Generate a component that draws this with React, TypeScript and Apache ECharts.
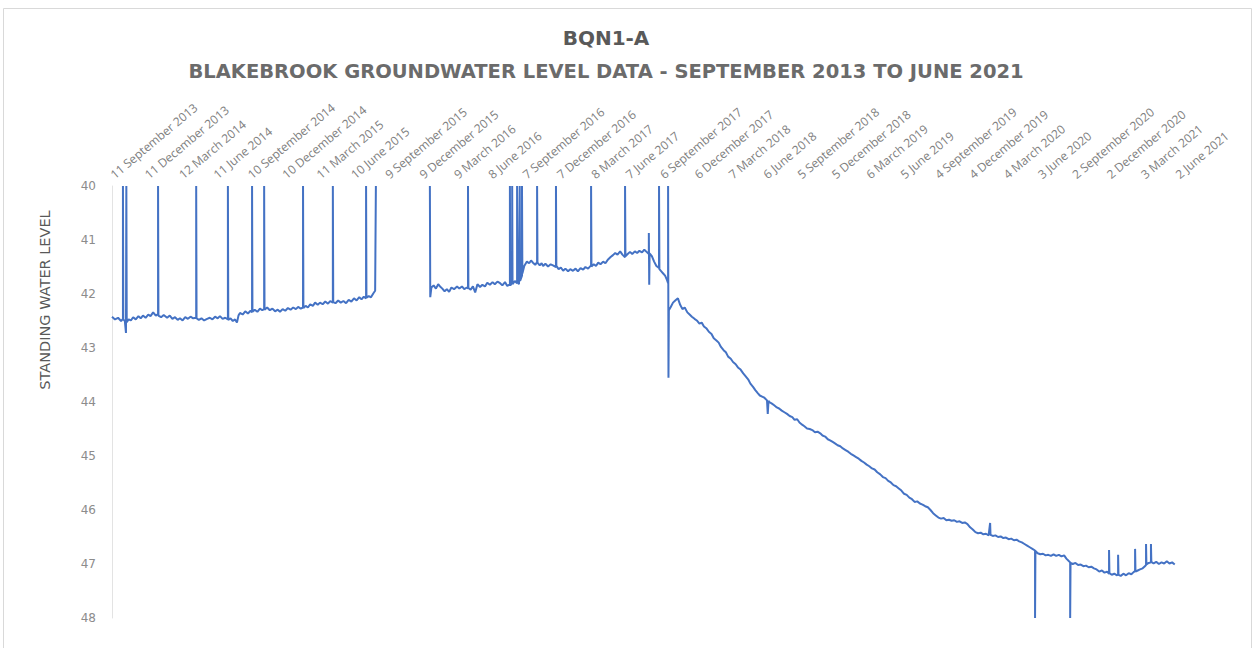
import React, { useEffect, useRef } from "react";
import * as echarts from "echarts";

// Tick labels: every 91 days starting 11 September 2013 (day 0)
const tickLabels: string[] = [
  "11 September 2013", "11 December 2013", "12 March 2014", "11 June 2014",
  "10 September 2014", "10 December 2014", "11 March 2015", "10 June 2015",
  "9 September 2015", "9 December 2015", "9 March 2016", "8 June 2016",
  "7 September 2016", "7 December 2016", "8 March 2017", "7 June 2017",
  "6 September 2017", "6 December 2017", "7 March 2018", "6 June 2018",
  "5 September 2018", "5 December 2018", "6 March 2019", "5 June 2019",
  "4 September 2019", "4 December 2019", "4 March 2020", "3 June 2020",
  "2 September 2020", "2 December 2020", "3 March 2021", "2 June 2021",
];
const tickStepDays = 91;

const titleText = "BQN1-A";
const subtitleText = "BLAKEBROOK GROUNDWATER LEVEL DATA - SEPTEMBER 2013 TO JUNE 2021";
const yAxisTitle = "STANDING WATER LEVEL";

// [days since 11 Sep 2013, standing water level]
const segmentA: number[][] = [
  [0,42.42],[8,42.47],[16,42.44],[24,42.50],[29,42.46],[29,40],[30,42.47],[34,42.50],[37,42.72],[38,40],[39,42.52],
  [44,42.47],[50,42.49],[56,42.43],[63,42.47],[70,42.41],[76,42.45],[82,42.40],[89,42.44],[96,42.38],[102,42.41],
  [109,42.34],[116,42.40],[122,42.37],[122,40],[123,42.40],[130,42.43],[137,42.39],[146,42.44],[153,42.40],[160,42.46],
  [167,42.43],[174,42.48],[180,42.45],[187,42.49],[194,42.43],[201,42.46],[208,42.42],[215,42.45],[223,42.44],[223,40],
  [224,42.45],[230,42.48],[237,42.45],[244,42.49],[252,42.46],[259,42.44],[266,42.47],[273,42.42],[280,42.45],[286,42.41],
  [293,42.46],[300,42.44],[307,42.47],[307,40],[308,42.48],[314,42.45],[320,42.50],[326,42.47],[331,42.53],[335,42.40],
  [339,42.35],[346,42.38],[353,42.32],[360,42.36],[367,42.31],[371,42.34],[371,40],[372,42.33],[378,42.29],[385,42.33],
  [392,42.27],[398,42.30],[403,42.28],[403,40],[404,42.29],[411,42.25],[418,42.30],[425,42.27],[432,42.32],[439,42.29],
  [445,42.33],[452,42.28],[459,42.31],[466,42.26],[473,42.29],[480,42.25],[487,42.28],[493,42.24],[500,42.27],[506,42.25],
  [506,40],[507,42.26],[513,42.22],[519,42.25],[525,42.19],[532,42.22],[538,42.16],[545,42.20],[551,42.16],[558,42.19],
  [565,42.14],[572,42.18],[578,42.13],[585,42.16],[585,40],[586,42.15],[592,42.17],[599,42.12],[606,42.16],[613,42.13],
  [620,42.17],[627,42.11],[634,42.14],[641,42.08],[648,42.12],[655,42.06],[661,42.10],[667,42.05],[673,42.08],[673,40],
  [674,42.07],[680,42.04],[686,42.06],[692,41.99],[697,41.94],[699,40],
];

const segmentB: number[][] = [
  [842,40],[843,42.06],[846,41.88],[852,41.84],[858,41.90],[864,41.82],[869,41.86],[875,41.90],[881,41.95],[887,41.91],
  [893,41.96],[899,41.88],[906,41.91],[914,41.86],[920,41.90],[927,41.86],[933,41.91],[940,41.88],[943,41.90],[943,40],
  [944,41.89],[950,41.92],[956,41.86],[962,41.97],[968,41.82],[975,41.87],[981,41.83],[988,41.86],[994,41.79],[1001,41.83],
  [1008,41.78],[1014,41.82],[1021,41.77],[1028,41.80],[1034,41.84],[1041,41.78],[1047,41.85],[1054,41.82],[1054,40],[1055,41.84],
  [1060,41.80],[1060,40],[1061,41.82],[1067,41.76],[1073,41.80],[1073,40],[1074,41.78],[1078,41.82],[1080,40],[1081,41.76],
  [1086,41.66],[1086,40],[1087,41.62],[1092,41.48],[1099,41.40],[1105,41.43],[1110,41.38],[1115,41.42],[1121,41.46],[1126,41.41],
  [1126,40],[1127,41.42],[1133,41.47],[1138,41.43],[1142,41.48],[1148,41.44],[1155,41.49],[1162,41.45],[1168,41.47],[1176,41.50],
  [1176,40],[1177,41.48],[1183,41.54],[1189,41.51],[1195,41.57],[1201,41.53],[1208,41.58],[1214,41.54],[1221,41.57],[1228,41.53],
  [1234,41.58],[1241,41.52],[1248,41.55],[1254,41.50],[1261,41.53],[1269,41.47],[1269,40],[1270,41.49],[1276,41.45],[1282,41.48],
  [1288,41.42],[1294,41.45],[1301,41.40],[1307,41.43],[1314,41.36],[1320,41.32],[1327,41.28],[1333,41.24],[1339,41.27],[1346,41.21],
  [1352,41.27],[1359,41.32],[1359,40],[1360,41.30],[1366,41.26],[1372,41.22],[1378,41.26],[1385,41.21],[1391,41.24],[1397,41.20],
  [1404,41.23],[1410,41.18],[1416,41.22],[1422,41.26],[1422,40.87],[1423,41.83],[1424,41.25],[1430,41.30],[1436,41.40],[1442,41.48],
  [1449,41.52],[1449,40],[1450,41.54],[1455,41.58],[1460,41.62],[1465,41.66],[1470,41.74],[1473,41.80],[1473,40],[1474,43.55],
  [1475,42.30],[1480,42.24],[1486,42.16],[1492,42.12],[1499,42.08],[1505,42.20],[1511,42.28],[1517,42.25],[1524,42.34],[1530,42.38],
  [1536,42.42],[1543,42.46],[1549,42.49],[1556,42.55],[1562,42.53],[1568,42.60],[1575,42.64],[1581,42.70],[1588,42.74],[1594,42.82],
  [1601,42.86],[1607,42.90],[1613,42.98],[1620,43.04],[1626,43.08],[1632,43.16],[1639,43.20],[1645,43.26],[1652,43.30],[1658,43.36],
  [1665,43.40],[1672,43.47],[1678,43.52],[1685,43.58],[1691,43.66],[1698,43.72],[1704,43.78],[1711,43.84],[1716,43.88],[1722,43.90],
  [1728,43.92],[1735,43.97],[1737,44.22],[1739,43.98],[1741,44.00],[1748,44.03],[1754,44.06],[1761,44.10],[1767,44.12],[1774,44.16],
  [1781,44.19],[1788,44.22],[1795,44.26],[1802,44.28],[1808,44.33],[1815,44.32],[1821,44.38],[1828,44.42],[1834,44.45],[1841,44.49],
  [1848,44.50],[1855,44.52],[1862,44.56],[1869,44.55],[1876,44.58],[1882,44.62],[1889,44.64],[1896,44.69],[1902,44.71],[1909,44.74],
  [1916,44.77],[1922,44.80],[1929,44.82],[1936,44.86],[1943,44.89],[1950,44.92],[1957,44.96],[1964,44.99],[1971,45.02],[1978,45.05],
  [1985,45.09],[1992,45.12],[1999,45.16],[2006,45.19],[2013,45.23],[2020,45.25],[2027,45.30],[2035,45.34],[2042,45.39],[2049,45.41],
  [2056,45.46],[2063,45.49],[2070,45.54],[2077,45.56],[2084,45.60],[2091,45.64],[2098,45.70],[2105,45.72],[2112,45.77],[2119,45.80],
  [2126,45.85],[2133,45.84],[2140,45.88],[2147,45.90],[2154,45.93],[2161,45.95],[2168,46.00],[2175,46.06],[2182,46.10],[2189,46.14],
  [2196,46.16],[2203,46.15],[2210,46.19],[2217,46.18],[2224,46.20],[2231,46.19],[2238,46.22],[2245,46.21],[2252,46.24],[2259,46.23],
  [2266,46.26],[2273,46.32],[2280,46.36],[2287,46.41],[2294,46.43],[2301,46.42],[2308,46.45],[2315,46.44],[2322,46.47],[2326,46.24],
  [2327,46.46],[2333,46.48],[2340,46.47],[2347,46.50],[2354,46.49],[2361,46.52],[2368,46.51],[2375,46.54],[2382,46.53],[2389,46.56],
  [2396,46.55],[2403,46.58],[2410,46.60],[2417,46.63],[2424,46.66],[2431,46.69],[2438,46.72],[2445,46.75],[2445,48],[2446,46.76],
  [2452,46.80],[2459,46.82],[2466,46.81],[2473,46.84],[2480,46.83],[2487,46.85],[2494,46.82],[2501,46.85],[2508,46.83],[2515,46.86],
  [2522,46.84],[2528,46.90],[2535,46.95],[2538,46.97],[2538,48],[2539,46.98],[2545,47.00],[2552,46.98],[2559,47.02],[2566,47.01],
  [2573,47.04],[2580,47.03],[2587,47.06],[2594,47.05],[2601,47.08],[2608,47.10],[2615,47.14],[2622,47.12],[2629,47.16],[2636,47.14],
  [2641,47.18],[2641,46.74],[2642,47.17],[2648,47.20],[2655,47.18],[2662,47.21],[2665,47.19],[2665,46.83],[2666,47.20],[2672,47.22],
  [2679,47.18],[2686,47.21],[2693,47.17],[2700,47.19],[2706,47.15],[2710,47.13],[2710,46.72],[2711,47.14],[2717,47.12],[2723,47.10],
  [2730,47.08],[2736,47.04],[2739,47.02],[2739,46.63],[2740,47.01],[2746,46.98],[2752,46.97],[2752,46.63],[2753,46.96],[2759,46.99],
  [2766,46.96],[2773,47.00],[2780,46.97],[2787,46.99],[2794,46.95],[2801,46.99],[2808,46.97],[2815,47.01],
];

const FONT = "'Open Sans', Lato, sans-serif";
const WIDE_FONT = "'DejaVu Sans', 'Open Sans', sans-serif";
const LINE_COLOR = "#4472C4";

export default function App() {
  const ref = useRef<HTMLDivElement>(null);
  useEffect(() => {
    if (!ref.current) return;
    const chart = echarts.init(ref.current, undefined, { renderer: "svg" });
    const lastTick = (tickLabels.length - 1) * tickStepDays;
    chart.setOption({
      animation: false,
      backgroundColor: "#ffffff",
      textStyle: { fontFamily: FONT },
      graphic: [
        {
          type: "rect",
          shape: { x: 3.5, y: 8.5, width: 1248, height: 700 },
          style: { fill: "none", stroke: "#d9d9d9", lineWidth: 1 },
          silent: true,
        },
        {
          type: "text",
          x: 606,
          y: 38,
          style: {
            text: titleText,
            fill: "#595959",
            font: `bold 20px ${WIDE_FONT}`,
            align: "center",
            verticalAlign: "middle",
          },
        },
        {
          type: "text",
          x: 606,
          y: 71,
          style: {
            text: subtitleText,
            fill: "#6b6b6b",
            font: `bold 19.5px ${WIDE_FONT}`,
            align: "center",
            verticalAlign: "middle",
          },
        },
        {
          type: "text",
          x: 45,
          y: 300,
          rotation: Math.PI / 2,
          style: {
            text: yAxisTitle,
            fill: "#595959",
            font: `14.5px ${WIDE_FONT}`,
            align: "center",
            verticalAlign: "middle",
          },
        },
      ],
      grid: { left: 112, right: 1260 - 1177, top: 186, bottom: 30, containLabel: false },
      xAxis: {
        type: "value",
        position: "top",
        min: 0,
        max: lastTick,
        interval: tickStepDays,
        axisLine: { show: false },
        axisTick: { show: false },
        splitLine: { show: false },
        axisLabel: {
          rotate: -40,
          margin: 10,
          fontSize: 12,
          color: "#808080",
          fontFamily: FONT,
          showMinLabel: true,
          showMaxLabel: true,
          hideOverlap: false,
          interval: 0,
          formatter: (v: number) => tickLabels[Math.round(v / tickStepDays)] ?? "",
        },
      },
      yAxis: {
        type: "value",
        inverse: true,
        min: 40,
        max: 48,
        interval: 1,
        axisLine: { show: true, lineStyle: { color: "#e3e3e3", width: 1 } },
        axisTick: { show: false },
        splitLine: { show: false },
        axisLabel: { fontSize: 12, color: "#8c8c8c", margin: 16, fontFamily: WIDE_FONT },
      },
      series: [
        {
          type: "line",
          data: segmentA,
          showSymbol: false,
          symbol: "none",
          lineStyle: { color: LINE_COLOR, width: 2 },
        },
        {
          type: "line",
          data: segmentB,
          showSymbol: false,
          symbol: "none",
          lineStyle: { color: LINE_COLOR, width: 2 },
        },
      ],
    });
    return () => chart.dispose();
  }, []);
  return (
    <div
      ref={ref}
      style={{ position: "fixed", left: 0, top: 0, width: 1260, height: 648 }}
    />
  );
}
